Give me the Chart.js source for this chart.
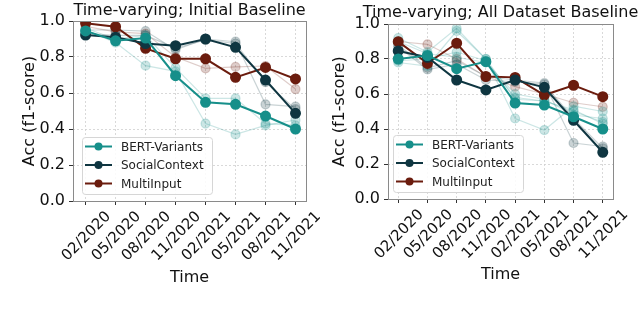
<!DOCTYPE html>
<html>
<head>
<meta charset="utf-8">
<script src="https://cdn.jsdelivr.net/npm/chart.js@4"></script>
<style>
  html, body { margin: 0; padding: 0; background: #fff; }
  .row { display: flex; width: 640px; height: 313px; }
  .row canvas { width: 320px; height: 313px; }
</style>
</head>
<body>
<div class="row">
  <canvas id="left" width="320" height="313"></canvas>
  <canvas id="right" width="320" height="313"></canvas>
</div>
<script>
let months = ["02/2020", "05/2020", "08/2020", "11/2020", "02/2021", "05/2021", "08/2021", "11/2021"]
let seriesNames = ["BERT-Variants", "SocialContext", "MultiInput"]

// Left plot: Initial Baseline
let leftBert = [0.945, 0.89, 0.905, 0.696, 0.548, 0.537, 0.472, 0.40]
let leftSocial = [0.922, 0.91, 0.875, 0.863, 0.90, 0.854, 0.672, 0.487]
let leftMulti = [0.987, 0.968, 0.848, 0.79, 0.79, 0.687, 0.742, 0.678]
let leftBertRunA = [0.95, 0.88, 0.752, 0.72, 0.43, 0.37, 0.42, 0.45]
let leftBertRunB = [0.96, 0.90, 0.92, 0.74, 0.57, 0.57, 0.43, 0.42]
let leftSocialRunA = [0.95, 0.95, 0.944, 0.84, 0.90, 0.885, 0.537, 0.524]
let leftSocialRunB = [0.93, 0.92, 0.92, 0.85, 0.895, 0.875, 0.66, 0.51]
let leftMultiRunA = [0.97, 0.94, 0.93, 0.80, 0.737, 0.745, 0.75, 0.622]

// Right plot: All Dataset Baseline
let rightBert = [0.80, 0.82, 0.745, 0.785, 0.548, 0.537, 0.47, 0.40]
let rightSocial = [0.846, 0.81, 0.68, 0.623, 0.68, 0.638, 0.45, 0.267]
let rightMulti = [0.899, 0.775, 0.89, 0.70, 0.695, 0.594, 0.65, 0.585]
let rightBertRunA = [0.92, 0.84, 0.975, 0.80, 0.46, 0.394, 0.53, 0.50]
let rightBertRunB = [0.79, 0.80, 0.84, 0.79, 0.58, 0.56, 0.50, 0.44]
let rightBertRunC = [0.90, 0.83, 0.81, 0.78, 0.60, 0.57, 0.48, 0.46]
let rightBertRunD = [0.78, 0.76, 0.96, 0.80, 0.57, 0.56, 0.51, 0.43]
let rightSocialRunA = [0.88, 0.75, 0.79, 0.70, 0.68, 0.662, 0.32, 0.30]
let rightSocialRunB = [0.87, 0.74, 0.77, 0.68, 0.67, 0.655, 0.46, 0.29]
let rightMultiRunA = [0.90, 0.884, 0.80, 0.70, 0.642, 0.60, 0.55, 0.527]

let yTicks = [0, 0.2, 0.4, 0.6, 0.8, 1.0]

const colors = ["#168f8a", "#0f3641", "#6b1c0e"]
const faded = ["rgba(22,143,138,0.22)", "rgba(15,54,65,0.22)", "rgba(107,28,14,0.22)"]

Chart.defaults.font.family = "DejaVu Sans"
Chart.defaults.color = "#222"

const toPoints = arr => arr.map((v, i) => ({ x: i, y: v }))

function mainSet(idx, values) {
  return {
    label: seriesNames[idx],
    data: toPoints(values),
    borderColor: colors[idx],
    backgroundColor: colors[idx],
    pointBackgroundColor: colors[idx],
    pointBorderColor: colors[idx],
    borderWidth: 2,
    pointRadius: 4.5
  }
}

function fadedSet(idx, values) {
  return {
    label: seriesNames[idx] + " run",
    data: toPoints(values),
    borderColor: faded[idx],
    backgroundColor: faded[idx],
    pointBackgroundColor: faded[idx],
    pointBorderColor: faded[idx],
    borderWidth: 1.2,
    pointRadius: 4.5
  }
}

// Title over the plot, frame around plot area, legend in the lower-left corner
const framePlugin = {
  id: "frame",
  afterDraw(chart) {
    const { ctx, chartArea: a } = chart
    const o = chart.options
    ctx.save()
    ctx.strokeStyle = "#8a8a8a"
    ctx.lineWidth = 1
    ctx.strokeRect(a.left + 0.5, a.top + 0.5, a.right - a.left, a.bottom - a.top)

    // title
    ctx.fillStyle = "#111"
    ctx.font = "16px 'DejaVu Sans'"
    ctx.textAlign = "center"
    ctx.textBaseline = "middle"
    ctx.fillText(o.plotTitle, (a.left + a.right) / 2, o.titleY)

    // legend
    const bx = a.left + o.legendDx
    const bw = 130, bh = 57
    const by = a.bottom - 7 - bh
    ctx.fillStyle = "rgba(255,255,255,0.85)"
    ctx.strokeStyle = "#d6d6d6"
    ctx.beginPath()
    ctx.roundRect(bx + 0.5, by + 0.5, bw, bh, 3)
    ctx.fill()
    ctx.stroke()
    ctx.font = "12px 'DejaVu Sans'"
    ctx.textAlign = "left"
    seriesNames.forEach((name, i) => {
      const y = by + 9.5 + i * 18.5
      ctx.strokeStyle = colors[i]
      ctx.lineWidth = 2
      ctx.beginPath()
      ctx.moveTo(bx + 3, y)
      ctx.lineTo(bx + 30, y)
      ctx.stroke()
      ctx.fillStyle = colors[i]
      ctx.beginPath()
      ctx.arc(bx + 16.5, y, 4, 0, Math.PI * 2)
      ctx.fill()
      ctx.fillStyle = "#222"
      ctx.fillText(name, bx + 39, y + 1)
    })
    ctx.restore()
  }
}

function makeChart(id, title, datasets, g) {
  const gridOpts = {
    color: "#d0d0d0",
    lineWidth: 0.8,
    tickLength: 4,
    tickColor: "#333",
    tickBorderDash: [],
    tickWidth: 1
  }
  return new Chart(document.getElementById(id), {
    type: "line",
    data: { datasets },
    plugins: [framePlugin],
    options: {
      responsive: false,
      animation: false,
      legendDx: g.legendDx,
      plotTitle: title,
      titleY: g.titleY,
      layout: { padding: { left: 0, right: g.padRight, top: g.padTop, bottom: 23 } },
      plugins: {
        legend: { display: false },
        tooltip: { enabled: false },
        title: { display: false }
      },
      scales: {
        x: {
          type: "linear",
          min: g.xMin,
          max: 7.35,
          afterBuildTicks: axis => { axis.ticks = months.map((m, i) => ({ value: i })) },
          afterFit: scale => { scale.height = g.xHeight },
          grid: gridOpts,
          border: { display: false, dash: [2, 2] },
          ticks: {
            autoSkip: false,
            minRotation: 45,
            maxRotation: 45,
            labelOffset: 23,
            padding: 3,
            font: { size: 15 },
            color: "#111",
            callback: v => months[v]
          },
          title: {
            display: true,
            text: "Time",
            color: "#111",
            font: { size: 16 },
            padding: { top: 0, bottom: g.timePad }
          }
        },
        y: {
          min: 0,
          max: 1,
          afterBuildTicks: axis => { axis.ticks = yTicks.map(v => ({ value: v })) },
          afterFit: scale => { scale.width = g.yWidth },
          grid: gridOpts,
          border: { display: false, dash: [2, 2] },
          ticks: {
            padding: 4,
            font: { size: 16 },
            color: "#111",
            callback: v => v.toFixed(1)
          },
          title: {
            display: true,
            text: "Acc (f1-score)",
            color: "#111",
            font: { size: 16 },
            padding: { top: g.accPad, bottom: 0 }
          }
        }
      }
    }
  })
}

makeChart("left", "Time-varying; Initial Baseline", [
  mainSet(0, leftBert),
  mainSet(1, leftSocial),
  mainSet(2, leftMulti),
  fadedSet(0, leftBertRunA),
  fadedSet(0, leftBertRunB),
  fadedSet(1, leftSocialRunA),
  fadedSet(1, leftSocialRunB),
  fadedSet(2, leftMultiRunA)
], { padRight: 14, padTop: 21, titleY: 10.5, xHeight: 89, yWidth: 73, xMin: -0.42, timePad: 3, accPad: 20, legendDx: 9 })

makeChart("right", "Time-varying; All Dataset Baseline", [
  mainSet(0, rightBert),
  mainSet(1, rightSocial),
  mainSet(2, rightMulti),
  fadedSet(0, rightBertRunA),
  fadedSet(0, rightBertRunB),
  fadedSet(0, rightBertRunC),
  fadedSet(0, rightBertRunD),
  fadedSet(1, rightSocialRunA),
  fadedSet(1, rightSocialRunB),
  fadedSet(2, rightMultiRunA)
], { padRight: 27, padTop: 24, titleY: 12.5, xHeight: 91, yWidth: 68, xMin: -0.35, timePad: 6, accPad: 10, legendDx: 5 })
</script>
</body>
</html>
